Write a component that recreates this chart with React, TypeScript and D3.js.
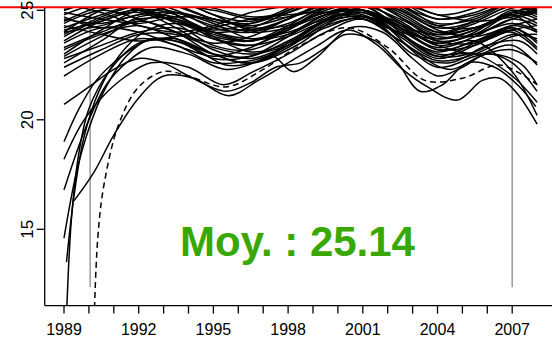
import React from "react";
import * as d3 from "d3";

// ---------- data ----------
const TANGLE_YEARS = [1989, 1990.5, 1992, 1993.5, 1995, 1996.5, 1998, 1999.5, 2001, 2002.5, 2004, 2005.5, 2007, 2008];

const tangleValues: number[][] = [
  [24.5, 25.2, 25.5, 25.0, 24.2, 24.0, 24.6, 25.3, 25.6, 24.8, 24.0, 24.5, 25.2, 25.0],
  [23.8, 24.6, 25.0, 24.4, 23.4, 23.2, 23.9, 24.8, 25.2, 24.2, 23.3, 23.8, 24.6, 24.3],
  [25.0, 25.6, 25.8, 25.2, 24.6, 24.4, 25.0, 25.8, 26.0, 25.4, 24.6, 24.9, 25.5, 25.2],
  [22.9, 23.8, 24.5, 24.0, 23.0, 22.6, 23.3, 24.4, 24.9, 23.8, 22.8, 23.4, 24.2, 23.6],
  [24.0, 24.3, 24.8, 24.9, 24.4, 23.7, 23.9, 24.7, 25.3, 25.0, 24.1, 23.8, 24.3, 24.6],
  [25.3, 24.9, 24.3, 24.0, 24.3, 24.9, 25.2, 25.4, 25.0, 24.3, 23.9, 24.4, 25.1, 25.3],
  [23.5, 24.2, 24.0, 23.4, 22.9, 23.3, 24.2, 24.9, 24.8, 23.9, 23.1, 23.6, 24.0, 23.2],
  [24.8, 25.3, 25.1, 24.6, 23.9, 23.6, 24.2, 25.1, 25.5, 24.9, 24.0, 24.2, 24.9, 25.1],
  [22.6, 23.6, 24.7, 24.7, 24.0, 23.6, 24.1, 25.0, 25.3, 24.5, 23.6, 23.9, 24.8, 24.4],
  [24.2, 24.8, 25.3, 25.4, 24.8, 24.1, 24.4, 25.2, 25.8, 25.3, 24.3, 24.2, 24.8, 24.0],
  [25.6, 25.5, 25.0, 24.5, 24.1, 24.4, 25.0, 25.7, 25.9, 25.2, 24.4, 24.6, 25.4, 25.6],
  [23.2, 23.9, 24.3, 23.7, 23.0, 22.9, 23.6, 24.5, 25.0, 24.3, 23.4, 23.6, 22.2, 20.2],
  [24.6, 24.4, 24.8, 25.2, 25.0, 24.6, 24.7, 25.1, 25.4, 25.3, 24.8, 24.5, 24.7, 25.0],
  [23.0, 24.1, 25.0, 24.8, 23.8, 23.1, 23.5, 24.6, 25.2, 24.0, 22.9, 23.1, 23.9, 23.7],
  [25.1, 25.8, 26.2, 25.6, 24.8, 24.5, 25.1, 26.0, 26.3, 25.6, 24.8, 25.1, 25.8, 25.6],
  [24.3, 23.9, 23.6, 23.8, 24.2, 24.6, 24.8, 24.9, 24.6, 24.0, 23.7, 24.1, 24.8, 25.0],
  [23.9, 24.7, 25.2, 24.9, 24.3, 24.1, 24.6, 25.4, 25.7, 25.0, 24.2, 24.5, 25.2, 24.8],
  [22.8, 23.4, 24.0, 24.2, 23.7, 23.4, 23.8, 24.5, 24.7, 23.9, 23.0, 23.0, 22.0, 20.8],
  [24.9, 24.6, 24.4, 24.7, 24.6, 24.2, 24.3, 24.9, 25.2, 24.6, 23.8, 23.9, 24.6, 24.9],
  [24.0, 25.0, 25.4, 24.8, 23.7, 23.4, 24.1, 25.1, 25.4, 24.4, 23.5, 24.0, 25.0, 24.7],
  [24.4, 25.0, 24.6, 24.0, 23.5, 23.8, 24.6, 25.2, 25.0, 24.2, 23.5, 23.9, 24.4, 24.1],
  [25.4, 25.1, 25.3, 25.5, 25.1, 24.7, 24.9, 25.5, 25.7, 25.2, 24.6, 24.8, 25.4, 25.5],
  [23.6, 24.5, 24.9, 24.2, 23.2, 22.8, 23.4, 24.3, 24.6, 23.6, 22.7, 23.0, 23.8, 23.9],
  [24.7, 24.2, 24.5, 24.9, 24.5, 24.0, 24.2, 24.8, 25.0, 24.4, 23.6, 23.5, 24.1, 24.3],
  [22.4, 23.2, 23.9, 23.9, 23.3, 23.0, 23.4, 24.2, 24.7, 24.2, 23.4, 23.0, 23.2, 22.6],
  [25.0, 25.4, 25.1, 24.5, 24.0, 24.2, 24.9, 25.6, 25.8, 25.1, 24.3, 24.7, 25.3, 24.9],
  [24.1, 24.5, 25.1, 25.2, 24.6, 24.3, 24.7, 25.3, 25.5, 24.7, 23.9, 24.2, 24.9, 25.2],
  [23.3, 24.0, 24.6, 24.6, 24.0, 23.7, 24.0, 24.6, 24.9, 24.1, 23.2, 23.4, 24.1, 23.3],
];

// series with their own [year, value] knots (early risers and lower envelope)
const riserSeries: [number, number][][] = [
  [[1989.1, 11.0], [1989.3, 15.5], [1989.6, 18.5], [1990, 20.5], [1990.8, 22.2], [1992, 23.5], [1993.5, 23.6], [1995, 22.8], [1996.5, 22.9], [1998, 23.8], [1999.5, 24.8], [2001, 25.0], [2002.5, 23.9], [2004, 22.9], [2005.5, 23.5], [2007, 24.2], [2008, 23.5]],
  [[1989.0, 16.8], [1989.5, 18.5], [1990, 20.0], [1990.7, 21.6], [1991.5, 22.6], [1992.5, 23.3], [1994, 23.0], [1995.5, 22.3], [1997, 22.8], [1998.5, 23.9], [2000, 24.8], [2001.5, 24.5], [2003, 23.0], [2004.5, 22.6], [2006, 23.4], [2007.3, 23.6], [2008, 23.0]],
  [[1989.4, 16.3], [1990.2, 17.6], [1991, 19.3], [1992, 21.0], [1993, 22.0], [1994.2, 21.9], [1995.6, 21.1], [1996.8, 21.8], [1998, 22.6], [1999.2, 23.4], [2000.4, 24.1], [2001.6, 23.4], [2002.6, 22.3], [2003.6, 21.5], [2004.8, 20.9], [2005.8, 21.8], [2006.5, 21.9], [2007.2, 21.2], [2008, 19.8]],
  [[1989.0, 19.0], [1989.6, 20.5], [1990.3, 21.8], [1991.2, 22.8], [1992.3, 23.6], [1993.5, 23.7], [1995, 23.0], [1996.5, 22.6], [1998, 23.4], [1999.5, 24.5], [2001, 25.0], [2002.5, 24.2], [2004, 23.2], [2005.5, 23.6], [2007, 24.3], [2008, 24.0]],
  [[1989.1, 13.5], [1989.4, 16.5], [1989.8, 19.2], [1990.4, 21.3], [1991.2, 22.9], [1992.2, 24.0], [1993.5, 24.4], [1995, 23.8], [1996.5, 23.6], [1998, 24.3], [1999.5, 25.2], [2001, 25.6], [2002.5, 24.7], [2004, 23.7], [2005.5, 24.1], [2007, 24.9], [2008, 24.6]],
  [[1989.0, 14.6], [1989.5, 17.6], [1990.0, 19.6], [1990.6, 21.3], [1991.5, 22.9], [1992.5, 23.7], [1994, 23.4], [1995.5, 22.5], [1997, 22.7], [1998.5, 23.5], [2000, 24.6], [2001.5, 24.6], [2003, 23.2], [2004.5, 22.3], [2006, 23.0], [2007.3, 22.6], [2008, 21.6]],
  [[1989.0, 20.7], [1990, 21.5], [1991, 22.3], [1992, 22.8], [1993, 22.6], [1994, 22.0], [1995.5, 21.3], [1996.5, 21.7], [1997.5, 22.4], [1998.5, 22.6], [1999.5, 23.3], [2000.3, 23.9], [2001.5, 23.6], [2002.4, 22.6], [2003.3, 21.3], [2004.2, 21.6], [2005.2, 22.6], [2006.3, 22.4], [2007.3, 21.5], [2007.95, 20.6]],
  [[1989.0, 22.0], [1990.5, 23.0], [1992, 23.7], [1993.5, 23.4], [1995, 22.6], [1996.5, 22.7], [1997.4, 22.9], [1998.2, 22.2], [1999.2, 22.9], [2000.5, 24.2], [2001.8, 24.0], [2003, 22.8], [2004, 22.0], [2005, 22.4], [2006, 23.0], [2007, 22.6], [2008, 21.3]],
  [[1989.0, 18.2], [1989.7, 19.8], [1990.5, 21.0], [1991.5, 22.0], [1992.5, 22.6], [1994, 22.4], [1995.4, 21.6], [1996.6, 22.2], [1998, 23.0], [1999.5, 24.0], [2001, 24.6], [2002.5, 23.6], [2004, 22.4], [2005.5, 22.9], [2007, 23.4], [2008, 22.5]],
];
const dashedSeries: [number, number][][] = [
  [[1990.2, 10.5], [1990.35, 14.5], [1990.6, 17.0], [1991.2, 19.8], [1992, 21.5], [1993, 22.2], [1994, 22.0], [1995.5, 21.5], [1997, 22.3], [1998.5, 23.4], [2000.4, 24.2], [2002, 23.3], [2003.5, 21.8], [2005, 21.9], [2006.5, 22.5], [2008, 21.6]],
];

const vlineYears = [1990.05, 2007.0];
const vlineBottom = 12.35;
const meanValue = 25.14;
const xTickYears = d3.range(1989, 2008);
const xLabelYears = [1989, 1992, 1995, 1998, 2001, 2004, 2007];
const yTicks = [15, 20, 25];

// ---------- layout ----------
const W = 552;
const H = 339;
const axisX = 44.7;
const axisY = 305.6;
const plotTop = 8;

export default function App() {
  const x = d3.scaleLinear().domain([1989, 2007]).range([64, 512.2]);
  const y = d3.scaleLinear().domain([15, 25]).range([229.3, 10.3]);
  const line = d3
    .line<[number, number]>()
    .x((d) => x(d[0]))
    .y((d) => y(d[1]))
    .curve(d3.curveCatmullRom.alpha(0.5));

  const tangle: [number, number][][] = tangleValues.map((vals) =>
    vals.map((v, i) => [TANGLE_YEARS[i], v] as [number, number])
  );
  const font = "'Liberation Sans', Arial, sans-serif";

  return (
    <svg width={W} height={H} style={{ position: "absolute", left: 0, top: 0, background: "#fff" }}>
      <defs>
        <clipPath id="plotclip">
          <rect x={axisX} y={plotTop} width={W - axisX} height={axisY - plotTop} />
        </clipPath>
      </defs>
      <g clipPath="url(#plotclip)">
        {vlineYears.map((yr) => (
          <line key={yr} x1={x(yr)} x2={x(yr)} y1={plotTop} y2={y(vlineBottom)} stroke="#9a9a9a" strokeWidth={1.5} />
        ))}
        {tangle.map((s, i) => (
          <path key={"t" + i} d={line(s) || ""} fill="none" stroke="#000" strokeWidth={1.5} />
        ))}
        {riserSeries.map((s, i) => (
          <path key={"r" + i} d={line(s) || ""} fill="none" stroke="#000" strokeWidth={1.5} />
        ))}
        {dashedSeries.map((s, i) => (
          <path key={"d" + i} d={line(s) || ""} fill="none" stroke="#000" strokeWidth={1.5} strokeDasharray="6,4" />
        ))}
      </g>
      <line x1={0} x2={W} y1={y(meanValue)} y2={y(meanValue)} stroke="#ff0000" strokeWidth={2} />
      {/* axes */}
      <line x1={axisX} x2={axisX} y1={plotTop} y2={axisY} stroke="#000" strokeWidth={1.3} />
      <line x1={axisX} x2={W} y1={axisY} y2={axisY} stroke="#000" strokeWidth={1.3} />
      {xTickYears.map((yr) => (
        <line key={yr} x1={x(yr)} x2={x(yr)} y1={axisY} y2={axisY + 8} stroke="#000" strokeWidth={1.3} />
      ))}
      {xLabelYears.map((yr) => (
        <text key={yr} x={x(yr)} y={335} textAnchor="middle" fontFamily={font} fontSize={16} fill="#000">
          {yr}
        </text>
      ))}
      {yTicks.map((v) => (
        <g key={v}>
          <line x1={axisX - 8} x2={axisX} y1={y(v)} y2={y(v)} stroke="#000" strokeWidth={1.3} />
          <text
            transform={`translate(33,${y(v)}) rotate(-90)`}
            textAnchor="middle"
            fontFamily={font}
            fontSize={17}
            fill="#000"
          >
            {v}
          </text>
        </g>
      ))}
      <text x={180} y={256} fontFamily={font} fontSize={42} fontWeight="bold" fill="#38a800">
        Moy. : 25.14
      </text>
    </svg>
  );
}
